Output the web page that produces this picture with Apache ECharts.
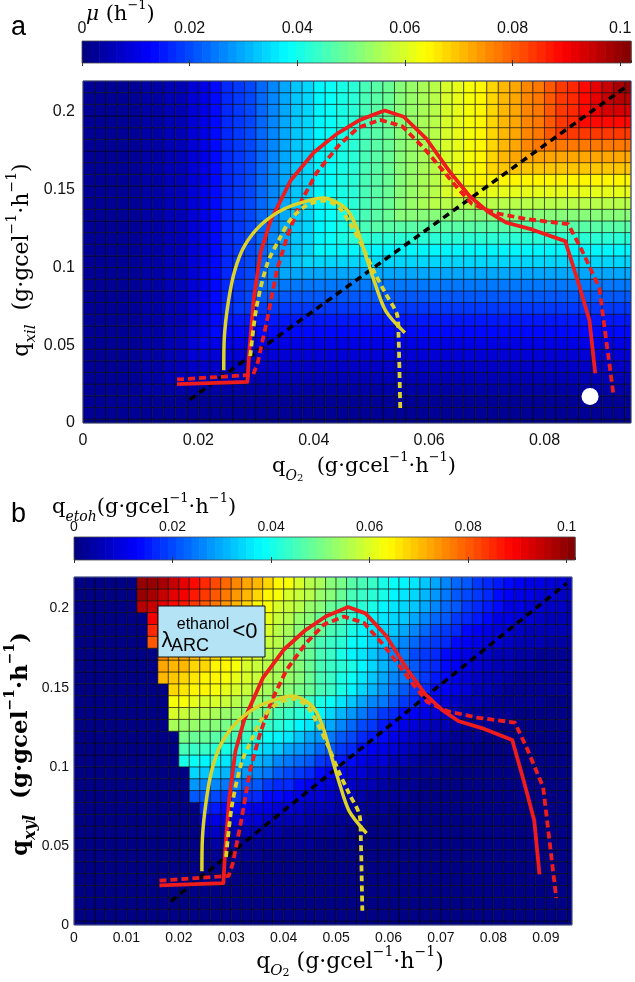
<!DOCTYPE html>
<html><head><meta charset="utf-8">
<script src="https://cdn.jsdelivr.net/npm/echarts@6/dist/echarts.min.js"></script>
<style>html,body{margin:0;padding:0;background:#fff}#c{width:635px;height:982px}</style>
</head><body><div id="c"></div>
<script>
// ---------- DATA ----------
// cell edges (q_O2 columns, q_xyl rows), g·gcel-1·h-1
const qO2Edges = [0,0.002,0.004,0.006,0.008,0.010,0.012,0.014,0.016,0.018,0.020,0.022,0.024,0.026,0.028,0.030,0.032,0.034,0.036,0.038,0.040,0.042,0.044,0.046,0.048,0.050,0.052,0.054,0.056,0.058,0.060,0.062,0.064,0.066,0.068,0.070,0.072,0.074,0.076,0.078,0.080,0.082,0.084,0.086,0.088,0.090,0.092,0.094,0.095];
const qXylEdges = [0,0.0025,0.0100,0.0175,0.0250,0.0325,0.0400,0.0475,0.0550,0.0625,0.0700,0.0775,0.0850,0.0925,0.1000,0.1075,0.1150,0.1225,0.1300,0.1375,0.1450,0.1525,0.1600,0.1675,0.1750,0.1825,0.1900,0.1975,0.2050,0.2125,0.2200];

// panel a: growth rate mu, in 1e-3 h-1 ; rows bottom -> top, columns left -> right
const muRows = [
[1,1,1,1,1,1,1,1, 1,1,1,1,1,1,1,1, 1,1,1,1,1,1,1,1, 1,1,1,1,1,1,1,1, 1,1,1,1,1,1,1,1, 1,1,1,1,1,1,1,1],
[2,2,2,2,2,2,2,2, 2,2,2,2,2,2,2,2, 2,2,2,2,2,2,2,2, 2,2,2,2,2,2,2,2, 2,2,2,2,2,2,2,2, 2,2,2,2,2,2,2,2],
[2,2,3,3,3,3,3,3, 3,3,3,3,3,3,3,3, 3,3,3,3,3,3,3,3, 3,3,3,3,3,3,3,3, 3,3,3,3,3,3,3,3, 3,3,3,3,3,3,3,3],
[2,2,3,3,3,4,4,4, 4,4,4,4,4,4,4,4, 4,4,4,4,4,4,4,4, 4,4,4,4,4,4,4,4, 4,4,4,4,4,4,4,4, 4,4,4,4,4,4,4,4],
[2,2,3,3,3,4,4,5, 5,5,5,5,5,5,5,5, 5,5,5,5,5,5,5,5, 5,5,5,5,5,5,5,5, 5,5,5,5,5,5,5,5, 5,5,5,5,5,5,5,5],
[2,2,3,3,3,4,4,5, 6,7,7,7,7,7,7,7, 7,7,7,7,7,7,7,7, 7,7,7,7,7,7,7,7, 7,7,7,7,7,7,7,7, 7,7,7,7,7,7,7,7],
[2,2,3,3,3,4,4,5, 6,8,9,9,9,9,9,9, 9,9,9,9,9,9,9,9, 9,9,9,9,9,9,9,9, 9,9,9,9,9,9,9,9, 9,9,9,9,9,9,9,9],
[2,2,3,3,3,4,4,5, 6,8,11,11,11,11,11,11, 11,11,11,11,11,11,11,11, 11,11,11,11,11,11,11,11, 11,11,11,11,11,11,11,11, 11,11,11,11,11,11,11,11],
[2,2,3,3,3,4,4,5, 6,8,11,13,13,13,13,13, 13,13,13,13,13,13,13,13, 13,13,13,13,13,13,13,13, 13,13,13,13,13,13,13,13, 13,13,13,13,13,13,13,13],
[2,2,3,3,3,4,4,5, 6,8,11,13,15,15,15,15, 15,15,15,15,15,15,15,15, 15,15,15,15,15,15,15,15, 15,15,15,15,15,15,15,15, 15,15,15,15,15,15,15,15],
[2,2,3,3,3,4,4,5, 6,8,11,13,16,18,18,18, 18,18,18,18,18,18,18,18, 18,18,18,18,18,18,18,18, 18,18,18,18,18,18,18,18, 18,18,18,18,18,18,18,18],
[2,2,3,3,3,4,4,5, 6,8,11,13,16,18,20,21, 21,21,21,21,21,21,21,21, 21,21,21,21,21,21,21,21, 21,21,21,21,21,21,21,21, 21,21,21,21,21,21,21,21],
[2,2,3,3,3,4,4,5, 6,8,11,13,16,18,20,23, 25,25,25,25,25,25,25,25, 25,25,25,25,25,25,25,25, 25,25,25,25,25,25,25,25, 25,25,25,25,25,25,25,25],
[2,2,3,3,3,4,4,5, 6,8,11,13,16,18,20,23, 26,29,29,29,29,29,29,29, 29,29,29,29,29,29,29,29, 29,29,29,29,29,29,29,29, 29,29,29,29,29,29,29,29],
[2,2,3,3,3,4,4,5, 6,8,11,13,16,18,20,23, 26,29,32,34,34,34,34,34, 34,34,34,34,34,34,34,34, 34,34,34,34,34,34,34,34, 34,34,34,34,34,34,34,34],
[2,2,3,3,3,4,4,5, 6,8,11,13,16,18,20,23, 26,29,32,35,37,38,38,38, 38,38,38,38,38,38,38,38, 38,38,38,38,38,38,38,38, 38,38,38,38,38,38,38,38],
[2,2,3,3,3,4,4,5, 6,8,11,13,16,18,20,23, 26,29,32,35,37,39,41,42, 42,42,42,42,42,42,42,42, 42,42,42,42,42,42,42,42, 42,42,42,42,42,42,42,42],
[2,2,3,3,3,4,4,5, 6,8,11,13,16,18,20,23, 26,29,32,35,37,39,41,43, 45,47,47,47,47,47,47,47, 47,47,47,47,47,47,47,47, 47,47,47,47,47,47,47,47],
[2,2,3,3,3,4,4,5, 6,8,11,13,16,18,20,23, 26,29,32,35,37,39,41,43, 45,47,49,51,52,52,52,52, 52,52,52,52,52,52,52,52, 52,52,52,52,52,52,52,52],
[2,2,3,3,3,4,4,5, 6,8,11,13,16,18,20,23, 26,29,32,35,37,39,41,43, 45,47,49,51,53,55,57,57, 57,57,57,57,57,57,57,57, 57,57,57,57,57,57,57,57],
[2,2,3,3,3,4,4,5, 6,8,11,13,16,18,20,23, 26,29,32,35,37,39,41,43, 45,47,49,51,53,55,57,59, 61,62,62,62,62,62,62,62, 62,62,62,62,62,62,62,62],
[2,2,3,3,3,4,4,5, 6,8,11,13,16,18,20,23, 26,29,32,35,37,39,41,43, 45,47,49,51,53,55,57,59, 61,63,65,65,65,65,65,65, 65,65,65,65,65,65,65,65],
[2,2,3,3,3,4,4,5, 6,8,11,13,16,18,20,23, 26,29,32,35,37,39,41,43, 45,47,49,51,53,55,57,59, 61,63,65,68,69,69,69,69, 69,69,69,69,69,69,69,69],
[2,2,3,3,3,4,4,5, 6,8,11,13,16,18,20,23, 26,29,32,35,37,39,41,43, 45,47,49,51,53,55,57,59, 61,63,65,68,71,73,73,73, 73,73,73,73,73,73,73,73],
[2,2,3,3,3,4,4,5, 6,8,11,13,16,18,20,23, 26,29,32,35,37,39,41,43, 45,47,49,51,53,55,57,59, 61,63,65,68,71,73,75,77, 77,77,77,77,77,77,77,77],
[2,2,3,3,3,4,4,5, 6,8,11,13,16,18,20,23, 26,29,32,35,37,39,41,43, 45,47,49,51,53,55,57,59, 61,63,65,68,71,73,75,77, 80,83,83,83,83,83,83,83],
[2,2,3,3,3,4,4,5, 6,8,11,13,16,18,20,23, 26,29,32,35,37,39,41,43, 45,47,49,51,53,55,57,59, 61,63,65,68,71,73,75,77, 80,83,86,88,88,88,88,88],
[2,2,3,3,3,4,4,5, 6,8,11,13,16,18,20,23, 26,29,32,35,37,39,41,43, 45,47,49,51,53,55,57,59, 61,63,65,68,71,73,75,77, 80,83,86,89,92,93,93,93],
[2,2,3,3,3,4,4,5, 6,8,11,13,16,18,20,23, 26,29,32,35,37,39,41,43, 45,47,49,51,53,55,57,59, 61,63,65,68,71,73,75,77, 80,83,86,89,92,95,97,97],
[2,2,3,3,3,4,4,5, 6,8,11,13,16,18,20,23, 26,29,32,35,37,39,41,43, 45,47,49,51,53,55,57,59, 61,63,65,68,71,73,75,77, 80,83,86,89,92,95,98,100]
];

// panel b: ethanol production rate q_etoh, in 1e-3 g·gcel-1·h-1 ; rows bottom -> top (0 = lambda_ARC < 0)
const etohRows = [
[0,0,0,0,0,0,0,0, 0,0,0,0,0,0,0,0, 0,0,0,0,0,0,0,0, 0,0,0,0,0,0,0,0, 0,0,0,0,0,0,0,0, 0,0,0,0,0,0,0,0],
[0,0,0,0,0,0,0,0, 0,0,0,0,0,0,0,0, 0,0,0,0,0,0,0,0, 0,0,0,0,0,0,0,0, 0,0,0,0,0,0,0,0, 0,0,0,0,0,0,0,0],
[0,0,0,0,0,0,0,0, 0,0,0,0,0,0,0,0, 0,0,0,0,0,0,0,0, 0,0,0,0,0,0,0,0, 0,0,0,0,0,0,0,0, 0,0,0,0,0,0,0,0],
[0,0,0,0,0,0,0,0, 0,0,0,0,0,0,0,0, 0,0,0,0,0,0,0,0, 0,0,0,0,0,0,0,0, 0,0,0,0,0,0,0,0, 0,0,0,0,0,0,0,0],
[0,0,0,0,0,0,0,0, 0,0,0,0,0,0,0,0, 0,0,0,0,0,0,0,0, 0,0,0,0,0,0,0,0, 0,0,0,0,0,0,0,0, 0,0,0,0,0,0,0,0],
[0,0,0,0,0,0,0,0, 0,0,0,0,0,0,0,0, 0,0,0,0,0,0,0,0, 0,0,0,0,0,0,0,0, 0,0,0,0,0,0,0,0, 0,0,0,0,0,0,0,0],
[0,0,0,0,0,0,0,0, 0,0,0,0,0,3,2,2, 2,2,1,1,1,1,1,0, 0,0,0,0,0,0,0,0, 0,0,0,0,0,0,0,0, 0,0,0,0,0,0,0,0],
[0,0,0,0,0,0,0,0, 0,0,0,0,0,4,4,4, 3,3,3,2,2,2,2,1, 1,1,0,0,0,0,0,0, 0,0,0,0,0,0,0,0, 0,0,0,0,0,0,0,0],
[0,0,0,0,0,0,0,0, 0,0,0,0,7,7,6,6, 5,5,4,4,3,3,3,2, 2,2,1,1,1,1,0,0, 0,0,0,0,0,0,0,0, 0,0,0,0,0,0,0,0],
[0,0,0,0,0,0,0,0, 0,0,0,0,11,10,10,9, 8,8,7,6,5,5,4,4, 3,3,2,2,1,1,1,1, 0,0,0,0,0,0,0,0, 0,0,0,0,0,0,0,0],
[0,0,0,0,0,0,0,0, 0,0,0,0,16,15,14,13, 12,11,10,9,8,7,6,5, 5,4,3,3,2,2,1,1, 1,1,1,1,0,0,0,0, 0,0,0,0,0,0,0,0],
[0,0,0,0,0,0,0,0, 0,0,0,22,21,20,19,18, 17,16,14,13,12,10,9,8, 7,6,5,4,3,3,2,2, 1,1,1,1,1,1,1,1, 1,1,1,1,1,1,1,1],
[0,0,0,0,0,0,0,0, 0,0,0,28,27,26,25,24, 22,21,19,17,16,14,12,11, 9,8,7,6,5,4,3,2, 2,1,1,1,1,1,1,1, 1,1,1,1,1,1,1,1],
[0,0,0,0,0,0,0,0, 0,0,0,34,33,32,31,29, 28,26,24,22,20,18,16,14, 12,11,9,8,6,5,4,3, 3,2,2,1,1,1,1,1, 1,1,1,1,1,1,1,1],
[0,0,0,0,0,0,0,0, 0,0,40,39,38,37,36,35, 33,31,29,27,25,23,21,19, 17,15,13,11,9,8,6,5, 4,3,2,2,1,1,1,1, 1,1,1,1,1,1,1,1],
[0,0,0,0,0,0,0,0, 0,0,45,44,43,42,41,40, 38,36,34,32,30,28,26,23, 21,19,16,14,12,10,8,7, 5,4,3,3,2,2,1,1, 1,1,1,1,1,1,1,1],
[0,0,0,0,0,0,0,0, 0,0,50,49,48,47,46,45, 43,41,39,37,35,33,30,28, 25,22,20,17,15,13,11,9, 7,6,5,4,3,2,2,1, 1,1,1,1,1,1,1,1],
[0,0,0,0,0,0,0,0, 0,55,54,53,52,51,50,49, 47,46,44,42,40,37,35,32, 29,26,23,20,18,15,13,11, 9,7,6,5,4,3,2,2, 1,1,1,1,1,1,1,1],
[0,0,0,0,0,0,0,0, 0,59,58,57,56,55,54,53, 51,50,48,46,44,42,40,37, 34,31,28,25,22,19,17,14, 12,10,8,7,5,4,3,3, 2,2,1,1,1,1,1,1],
[0,0,0,0,0,0,0,0, 0,63,62,61,60,59,58,57, 55,54,52,50,48,46,44,41, 39,36,33,30,27,24,21,18, 16,13,11,9,7,6,5,4, 3,2,2,2,2,1,1,1],
[0,0,0,0,0,0,0,0, 0,67,66,65,64,62,61,60, 58,57,55,54,52,50,48,45, 43,40,37,34,31,28,25,22, 19,16,14,12,10,8,6,5, 4,3,3,2,2,2,2,2],
[0,0,0,0,0,0,0,0, 71,69,68,66,65,64,62,61, 60,58,57,55,53,51,49,46, 44,41,39,36,33,30,27,24, 21,18,15,13,11,9,7,6, 5,4,3,3,2,2,2,2],
[0,0,0,0,0,0,0,0, 73,71,70,68,67,65,64,62, 60,58,57,55,53,51,48,46, 44,42,40,37,34,31,28,25, 22,19,17,14,12,10,9,7, 6,5,4,4,3,3,3,3],
[0,0,0,0,0,0,0,0, 75,73,72,70,68,67,65,63, 61,59,57,55,52,50,48,45, 43,41,38,36,33,30,27,25, 20,18,16,14,12,10,8,7, 6,5,4,4,3,3,3,3],
[0,0,0,0,0,0,0,80, 78,77,75,73,71,69,67,65, 62,60,58,56,53,51,49,46, 44,42,39,37,34,32,29,27, 23,20,18,16,14,12,10,9, 8,7,6,5,5,4,4,4],
[0,0,0,0,0,0,0,85, 83,81,79,77,75,72,70,67, 64,62,59,57,55,52,50,48, 45,43,41,38,36,34,32,29, 26,23,20,18,16,14,12,11, 9,8,7,6,6,5,5,5],
[0,0,0,0,0,0,0,90, 88,85,83,80,77,74,72,69, 66,63,61,58,56,54,52,49, 47,45,42,40,38,36,34,32, 29,26,23,21,19,17,15,13, 11,10,9,8,7,6,6,5],
[0,0,0,0,0,0,96,94, 91,88,86,83,80,77,74,71, 68,65,63,60,58,56,54,51, 49,47,44,42,40,38,36,34, 32,29,26,23,21,19,17,15, 13,11,10,9,8,7,7,6],
[0,0,0,0,0,0,100,98, 95,92,89,86,83,80,77,74, 71,68,65,62,60,58,56,53, 51,49,46,44,42,40,38,36, 34,31,28,25,22,20,18,16, 14,12,11,10,9,8,7,7],
[0,0,0,0,0,0,100,99, 97,94,91,88,85,82,79,76, 73,70,67,64,62,60,57,55, 52,50,47,45,43,41,39,37, 35,32,29,26,23,21,19,17, 15,13,12,11,10,9,8,7]
];

// trajectories [q_O2, q_xyl]
const redSolid = [[0.0163,0.025],[0.0285,0.0265],[0.0288,0.045],[0.0296,0.08],[0.0308,0.11],[0.0325,0.13],[0.036,0.156],[0.040,0.174],[0.044,0.186],[0.048,0.195],[0.0523,0.201],[0.0556,0.197],[0.0595,0.183],[0.0635,0.162],[0.067,0.146],[0.0702,0.136],[0.0733,0.129],[0.0778,0.1245],[0.0836,0.117],[0.0858,0.091],[0.0878,0.066],[0.0888,0.032]];
const redDashed = [[0.0163,0.028],[0.0295,0.031],[0.0303,0.039],[0.0319,0.066],[0.0336,0.098],[0.0354,0.12],[0.0376,0.141],[0.0405,0.161],[0.0442,0.178],[0.0477,0.19],[0.0515,0.195],[0.0553,0.191],[0.0588,0.178],[0.0616,0.166],[0.0645,0.153],[0.0674,0.141],[0.0714,0.135],[0.0772,0.131],[0.0841,0.128],[0.0865,0.111],[0.0895,0.087],[0.091,0.045],[0.092,0.017]];
const yellowSolid = [[0.0244,0.034],[0.0245,0.055],[0.0252,0.078],[0.0263,0.098],[0.028,0.114],[0.031,0.128],[0.035,0.138],[0.039,0.143],[0.0415,0.1447],[0.044,0.142],[0.046,0.136],[0.0475,0.125],[0.049,0.108],[0.0506,0.09],[0.0525,0.072],[0.0558,0.058]];
const yellowDashed = [[0.029,0.043],[0.0301,0.075],[0.032,0.103],[0.034,0.118],[0.036,0.131],[0.0388,0.14],[0.042,0.143],[0.0445,0.138],[0.0465,0.127],[0.0485,0.113],[0.0505,0.097],[0.0525,0.083],[0.0545,0.069],[0.0547,0.057],[0.055,0.009]];
const blackDashed = [[0.0185,0.015],[0.094,0.216]];
const whiteDot = [[0.0879,0.017]];

// axis ranges
const qO2Max = 0.095, qXylMax = 0.22;
const muBarMax = 0.102, etohBarMax = 0.1017;

// ---------- RENDER ----------
function jet(t){
  t = Math.min(1, Math.max(0, t));
  const k = Math.min(63, Math.floor(t*64));
  const u = (k+0.5)/64;
  const f = d => Math.round(255*Math.min(1, Math.max(0, 1.5 - Math.abs(4*u - d))));
  return 'rgb(' + f(3) + ',' + f(2) + ',' + f(1) + ')';
}
function buildCells(rows){
  const out = [];
  rows.forEach((row, j) => row.forEach((v, i) => out.push([qO2Edges[i], qO2Edges[i+1], qXylEdges[j], qXylEdges[j+1], v/1000])));
  return out;
}
function heatRender(cmax){
  return function(params, api){
    const p0 = api.coord([api.value(0), api.value(3)]), p1 = api.coord([api.value(1), api.value(2)]);
    return {type:'rect', shape:{x:p0[0], y:p0[1], width:p1[0]-p0[0], height:p1[1]-p0[1]},
      style:{fill: jet(api.value(4)/cmax), stroke:'rgba(0,0,0,0.6)', lineWidth:0.9}};
  };
}
function barRender(cmax){
  return function(params, api){
    const children = [];
    const n = 64;
    for (let k = 0; k < n; k++){
      const p0 = api.coord([k*cmax/n, 1]), p1 = api.coord([(k+1)*cmax/n, 0]);
      children.push({type:'rect', shape:{x:p0[0], y:p0[1], width:p1[0]-p0[0]+0.6, height:p1[1]-p0[1]}, style:{fill: jet((k+0.5)/n)}});
    }
    const a = api.coord([0,1]), b = api.coord([cmax,0]);
    children.push({type:'rect', shape:{x:a[0], y:a[1], width:b[0]-a[0], height:b[1]-a[1]}, style:{fill:'none', stroke:'#444', lineWidth:0.8}});
    return {type:'group', children};
  };
}

const sans = 'Liberation Sans';
const serif = 'DejaVu Serif';

function lineSeries(data, color, width, dash, xi, z, smooth){
  return {type:'line', xAxisIndex:xi, yAxisIndex:xi, data, showSymbol:false, symbol:'none', z, smooth: smooth || false,
    lineStyle:{color, width, type: dash || 'solid', cap:'butt', join:'round'}, animation:false, silent:true};
}
// rich styles for math labels
function mathRich(size, bold){
  const w = bold ? 'bold' : 'normal';
  const lh = Math.round(size*1.5);
  return {
    n:{fontFamily:serif, fontSize:size, fontWeight:w, lineHeight:lh, verticalAlign:'middle'},
    it:{fontFamily:serif, fontSize:size-1, fontStyle:'italic', fontWeight:w, lineHeight:lh, verticalAlign:'middle'},
    sub:{fontFamily:serif, fontSize:Math.round(size*0.68), fontStyle:'italic', fontWeight:w, lineHeight:lh, verticalAlign:'bottom'},
    sub2:{fontFamily:serif, fontSize:Math.round(size*0.48), fontWeight:w, lineHeight:Math.round(size*1.3), verticalAlign:'bottom'},
    sup:{fontFamily:serif, fontSize:Math.round(size*0.62), fontWeight:w, lineHeight:lh, verticalAlign:'top'}
  };
}
function mathText(x, y, text, size, rot, bold, align){
  const el = {type:'text', x, y, z:100, style:{text, rich:mathRich(size, bold), fill:'#000', align: align || 'center', verticalAlign:'middle', fontFamily:serif, fontSize:size}};
  if (rot) el.rotation = rot;
  return el;
}
const unitStr = '{n|(g·gcel}{sup|−1}{n|·h}{sup|−1}{n|)}';

const tickLabA = {fontFamily:sans, fontSize:16, color:'#111'};
const tickLabB = {fontFamily:sans, fontSize:14, color:'#111'};

const option = {
  animation:false,
  backgroundColor:'#fff',
  grid:[
    {left:82, top:41, width:549, height:22},
    {left:83, top:81, width:548, height:342},
    {left:74, top:537, width:501, height:23},
    {left:74, top:577, width:498, height:348}
  ],
  xAxis:[
    {gridIndex:0, type:'value', min:0, max:muBarMax, interval:0.02, position:'top', z:10,
     axisLine:{show:false}, splitLine:{show:false}, axisTick:{inside:true, length:3, lineStyle:{color:'#333'}},
     axisLabel:Object.assign({margin:4, showMaxLabel:false}, tickLabA)},
    {gridIndex:1, type:'value', min:0, max:qO2Max, interval:0.02,
     axisLine:{show:false}, splitLine:{show:false}, axisTick:{show:false},
     axisLabel:Object.assign({margin:10, showMaxLabel:false}, tickLabA)},
    {gridIndex:2, type:'value', min:0, max:etohBarMax, interval:0.02, position:'top', z:10,
     axisLine:{show:false}, splitLine:{show:false}, axisTick:{inside:true, length:3, lineStyle:{color:'#333'}},
     axisLabel:Object.assign({margin:3, showMaxLabel:false}, tickLabB)},
    {gridIndex:3, type:'value', min:0, max:qO2Max, interval:0.01,
     axisLine:{show:false}, splitLine:{show:false}, axisTick:{show:false},
     axisLabel:Object.assign({margin:6, showMaxLabel:false}, tickLabB)},
    {gridIndex:0, type:'value', min:0, max:muBarMax, interval:0.02, position:'bottom', z:10,
     axisLine:{show:false}, splitLine:{show:false}, axisTick:{inside:true, length:3, lineStyle:{color:'#333'}}, axisLabel:{show:false}},
    {gridIndex:2, type:'value', min:0, max:etohBarMax, interval:0.02, position:'bottom', z:10,
     axisLine:{show:false}, splitLine:{show:false}, axisTick:{inside:true, length:3, lineStyle:{color:'#333'}}, axisLabel:{show:false}}
  ],
  yAxis:[
    {gridIndex:0, type:'value', min:0, max:1, show:false},
    {gridIndex:1, type:'value', min:0, max:qXylMax, interval:0.05,
     axisLine:{show:false}, splitLine:{show:false}, axisTick:{show:false},
     axisLabel:Object.assign({margin:8, showMaxLabel:false}, tickLabA)},
    {gridIndex:2, type:'value', min:0, max:1, show:false},
    {gridIndex:3, type:'value', min:0, max:qXylMax, interval:0.05,
     axisLine:{show:false}, splitLine:{show:false}, axisTick:{show:false},
     axisLabel:Object.assign({margin:5, showMaxLabel:false}, tickLabB)}
  ],
  series:[
    {type:'custom', xAxisIndex:0, yAxisIndex:0, data:[[0, muBarMax]], renderItem:barRender(muBarMax), silent:true, z:2},
    {type:'custom', xAxisIndex:2, yAxisIndex:2, data:[[0, etohBarMax]], renderItem:barRender(etohBarMax), silent:true, z:2},
    {type:'custom', xAxisIndex:1, yAxisIndex:1, data:buildCells(muRows), renderItem:heatRender(muBarMax), silent:true, z:1, progressive:0,
     encode:{x:[0,1], y:[2,3]}},
    {type:'custom', xAxisIndex:3, yAxisIndex:3, data:buildCells(etohRows), renderItem:heatRender(etohBarMax), silent:true, z:1, progressive:0,
     encode:{x:[0,1], y:[2,3]}},

    lineSeries(blackDashed, '#000', 3.5, [7,5], 1, 5),
    lineSeries(redDashed, '#ee1c1c', 3.8, [7,4], 1, 6),
    lineSeries(redSolid, '#ee1c1c', 3.8, null, 1, 7),
    lineSeries(yellowDashed, '#dcd42a', 3.8, [6,4], 1, 8, 0.3),
    lineSeries(yellowSolid, '#dcd42a', 3.5, null, 1, 9, 0.3),
    {type:'scatter', xAxisIndex:1, yAxisIndex:1, data:whiteDot, symbolSize:17, itemStyle:{color:'#ffffff', opacity:1}, z:10, silent:true},

    lineSeries(blackDashed, '#000', 3.5, [7,5], 3, 5),
    lineSeries(redDashed, '#ee1c1c', 3.8, [7,4], 3, 6),
    lineSeries(redSolid, '#ee1c1c', 3.8, null, 3, 7),
    lineSeries(yellowDashed, '#dcd42a', 3.8, [6,4], 3, 8, 0.3),
    lineSeries(yellowSolid, '#dcd42a', 3.5, null, 3, 9, 0.3)
  ],
  graphic:[
    {type:'text', x:11, y:14, z:100, style:{text:'a', fontFamily:sans, fontSize:27, fill:'#000'}},
    {type:'text', x:11, y:501, z:100, style:{text:'b', fontFamily:sans, fontSize:27, fill:'#000'}},
    mathText(86, 15, '{it|μ}{n| (h}{sup|−1}{n|)}', 21, 0, false, 'left'),
    mathText(52, 508, '{n|q}{sub|etoh}' + unitStr, 21, 0, false, 'left'),
    // axis titles
    mathText(364, 467, '{n|q}{sub|O}{sub2|2}{n|  }' + unitStr, 21),
    mathText(22, 260, '{n|q}{sub|xil}{n|  }' + unitStr, 22, Math.PI/2),
    mathText(350, 962, '{n|q}{sub|O}{sub2|2}{n| }' + unitStr, 22),
    mathText(21, 744, '{n|q}{sub|xyl}{n|  }' + unitStr, 23, Math.PI/2, true),
    // plot frames
    {type:'rect', z:50, shape:{x:83, y:81, width:548, height:342}, style:{fill:'none', stroke:'rgba(70,80,130,0.9)', lineWidth:1}},
    {type:'rect', z:50, shape:{x:74, y:577, width:498, height:348}, style:{fill:'none', stroke:'rgba(90,105,170,0.9)', lineWidth:1}},
    // lambda box
    {type:'rect', z:60, shape:{x:158, y:606, width:107, height:51}, style:{fill:'#b3e3f4', stroke:'#111', lineWidth:1}},
    {type:'text', z:61, x:167, y:641, style:{text:'λ', fontFamily:sans, fontSize:22, fill:'#000', align:'center', verticalAlign:'middle'}},
    {type:'text', z:61, x:203, y:625, style:{text:'ethanol', fontFamily:sans, fontSize:16, fill:'#000', align:'center', verticalAlign:'middle'}},
    {type:'text', z:61, x:190, y:646, style:{text:'ARC', fontFamily:sans, fontSize:18, fill:'#000', align:'center', verticalAlign:'middle'}},
    {type:'text', z:61, x:245, y:632, style:{text:'<0', fontFamily:sans, fontSize:22, fill:'#000', align:'center', verticalAlign:'middle'}}
  ]
};
const chart = echarts.init(document.getElementById('c'), null, {renderer:'canvas'});
chart.setOption(option);
</script>
</body></html>
